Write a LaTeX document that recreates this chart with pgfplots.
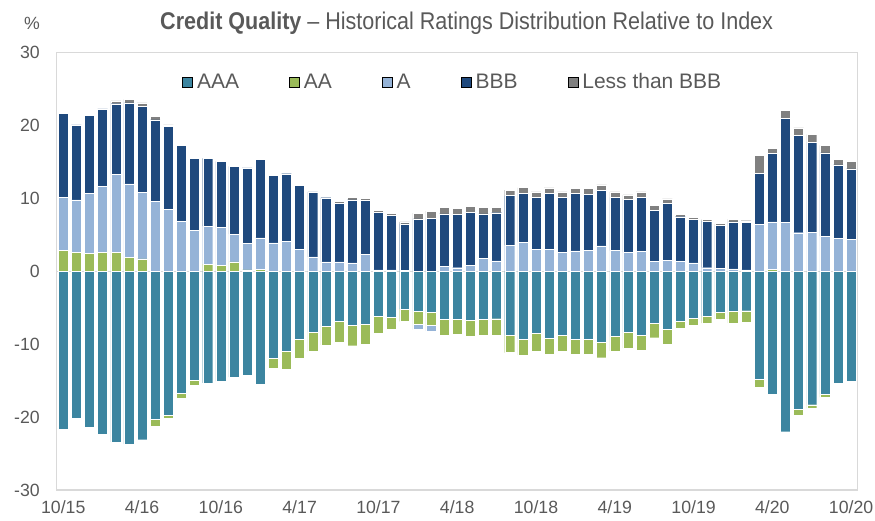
\documentclass[border=0pt]{standalone}
\usepackage{pgfplots}
\pgfplotsset{compat=1.18}
\usepackage{pgfplotstable}
\usepackage{fontspec}
\setmainfont{Liberation Sans}
\newfontfamily\titlefont[FakeStretch=0.89,Ligatures=TeX]{Liberation Sans}
\definecolor{cAAA}{HTML}{3C85A0}
\definecolor{cAA}{HTML}{9BBB59}
\definecolor{cA}{HTML}{95B3D7}
\definecolor{cBBB}{HTML}{1F497D}
\definecolor{cLt}{HTML}{808080}
\definecolor{txt}{HTML}{595959}
\definecolor{frm}{HTML}{D9D9D9}

\pgfplotstableread{
x AAA AA A BBB Lt
0 -21.7 2.85 7.35 11.5 0
1 -20.1 2.6 7.2 10.3 0
2 -21.4 2.5 8.2 10.7 0
3 -22.4 2.6 9.1 10.6 0
4 -23.4 2.6 10.7 9.7 0.4
5 -23.7 1.9 10.1 11.1 0.5
6 -23.1 1.7 9.1 11.8 0.5
7 -20.3 -1.0 9.6 11.2 0.5
8 -19.7 -0.4 8.5 11.4 0.2
9 -16.7 -0.7 6.9 10.4 0
10 -14.9 -0.7 5.6 9.9 0
11 -15.3 1.0 5.2 9.3 -0.2
12 -15.1 0.8 5.2 9.1 0
13 -14.5 1.3 3.8 9.3 0
14 -14.3 0.2 3.6 10.4 0
15 -15.5 0.3 4.3 10.8 0
16 -11.9 -1.4 3.9 9.3 0
17 -10.9 -2.5 4.1 9.3 0
18 -9.3 -2.6 3.0 8.8 0
19 -8.3 -2.7 2.0 8.9 0
20 -7.5 -2.6 1.3 8.8 0
21 -6.9 -2.8 1.3 8.0 0.35
22 -7.45 -2.75 1.15 8.65 0.35
23 -7.3 -2.75 2.3 7.45 0.25
24 -6.1 -2.35 0.2 7.9 0.3
25 -6.25 -1.75 0.2 7.5 0.3
26 -5.15 -1.7 0.1 6.4 0.3
27 -5.45 -1.75 -0.8 7.2 0.8
28 -5.65 -1.8 -0.75 7.3 0.95
29 -6.6 -2.2 0.7 7.2 0.9
30 -6.55 -2.1 0.5 7.3 0.85
31 -6.75 -2.15 0.8 7.3 0.8
32 -6.6 -2.2 1.75 6.15 0.85
33 -6.5 -2.25 1.45 6.6 0.7
34 -8.8 -2.35 3.55 6.85 0.75
35 -9.25 -2.25 4.0 6.7 0.8
36 -8.55 -2.35 3.0 7.15 0.75
37 -9.15 -2.25 3.05 7.65 0.75
38 -8.7 -2.2 2.65 7.5 0.75
39 -9.25 -2.15 2.8 7.9 0.65
40 -9.25 -2.15 2.9 7.65 0.85
41 -9.75 -2.1 3.5 7.6 0.75
42 -8.95 -1.95 2.85 7.3 0.75
43 -8.4 -2.15 2.65 7.25 0.6
44 -8.8 -2.05 2.75 7.4 0.75
45 -7.1 -2.0 1.35 7.05 0.7
46 -8.0 -1.95 1.55 7.75 0.65
47 -6.85 -0.95 1.35 6.15 0.3
48 -6.45 -1.0 1.15 6.0 0.3
49 -6.15 -0.95 0.5 6.4 0.2
50 -5.6 -1.0 0.45 5.85 0.25
51 -5.5 -1.6 0.35 6.45 0.35
52 -5.4 -1.55 0.2 6.5 0.25
53 -14.85 -1.1 6.45 7.0 2.5
54 -16.85 0.3 6.5 9.35 0.75
55 -22.0 0 6.7 14.3 1.05
56 -18.95 -0.8 5.3 13.35 1.05
57 -18.3 -0.5 5.35 12.35 1.1
58 -16.8 -0.5 4.85 11.4 1.05
59 -15.4 0 4.5 10.1 0.8
60 -15.1 0 4.35 9.7 1.05
}\data

\pgfplotsset{
  base/.style={
    at={(56.7pt,30pt)}, anchor=south west,
    width=801pt, height=437.3pt, scale only axis,
    xmin=-0.5, xmax=60.5, ymin=-30, ymax=30,
    enlargelimits=false,
    ybar stacked, bar width=0.76,
  },
  seg/.style={draw=white, line width=0.35pt},
}

\begin{document}
\begin{tikzpicture}[x=1pt,y=1pt]
\useasboundingbox (0,0) rectangle (875,520);
\begin{axis}[base,
  axis line style={draw=frm, line width=1.5pt},
  major tick length=0pt, tick style={draw=none},
  ytick={-30,-20,-10,0,10,20,30},
  yticklabels={-30,-20,-10,0,10,20,30},
  xtick={0,6,...,60},
  xticklabels={10/15,4/16,10/16,4/17,10/17,4/18,10/18,4/19,10/19,4/20,10/20},
  ticklabel style={font=\fontsize{17.7}{20}\selectfont, text=txt},
  yticklabel style={anchor=east, inner sep=0pt, xshift=-16.7pt},
  xticklabel style={anchor=north, inner sep=0pt, yshift=-10.3pt},
  legend columns=5,
  legend image code/.code={\fill[#1] (0pt,-5pt) rectangle (10pt,5pt); \path (14.4pt,0pt);},
  legend style={at={(0.1568,0.9335)}, anchor=west, draw=none, fill=none,
    inner sep=0pt, outer sep=0pt, font=\fontsize{21}{24}\selectfont, text=txt,
    nodes={inner sep=0pt},
    /tikz/every even column/.append style={column sep=50pt}},
  legend cell align=left,
]
\addlegendimage{fill=cAAA}\addlegendentry{AAA}
\addlegendimage{fill=cAA}\addlegendentry{AA}
\addlegendimage{fill=cA}\addlegendentry{A}
\addlegendimage{fill=cBBB}\addlegendentry{BBB}
\addlegendimage{fill=cLt}\addlegendentry{Less than BBB}
\addplot[seg, fill=cAA] table[x=x, y expr={max(\thisrow{AA},0)}] {\data};
\addplot[seg, fill=cA] table[x=x, y expr={max(\thisrow{A},0)}] {\data};
\addplot[seg, fill=cBBB] table[x=x, y expr={max(\thisrow{BBB},0)}] {\data};
\addplot[seg, fill=cLt] table[x=x, y expr={max(\thisrow{Lt},0)}] {\data};
\end{axis}
\begin{axis}[base, hide axis]
\addplot[seg, fill=cAAA] table[x=x, y expr={min(\thisrow{AAA},0)}] {\data};
\addplot[seg, fill=cAA] table[x=x, y expr={min(\thisrow{AA},0)}] {\data};
\addplot[seg, fill=cA] table[x=x, y expr={min(\thisrow{A},0)}] {\data};
\addplot[seg, fill=cLt] table[x=x, y expr={min(\thisrow{Lt},0)}] {\data};
\draw[frm, line width=1.5pt] (axis cs:-0.5,0) -- (axis cs:60.5,0);
\end{axis}
\node[anchor=base east, inner sep=0pt, text=txt, font=\fontsize{17.7}{20}\selectfont] at (40,490) {\%};
\node[anchor=base west, inner sep=0pt, text=txt] at (160,490)
  {\titlefont\fontsize{24.2}{28}\selectfont\textbf{Credit Quality} – Historical Ratings Distribution Relative to Index};
\end{tikzpicture}
\end{document}
